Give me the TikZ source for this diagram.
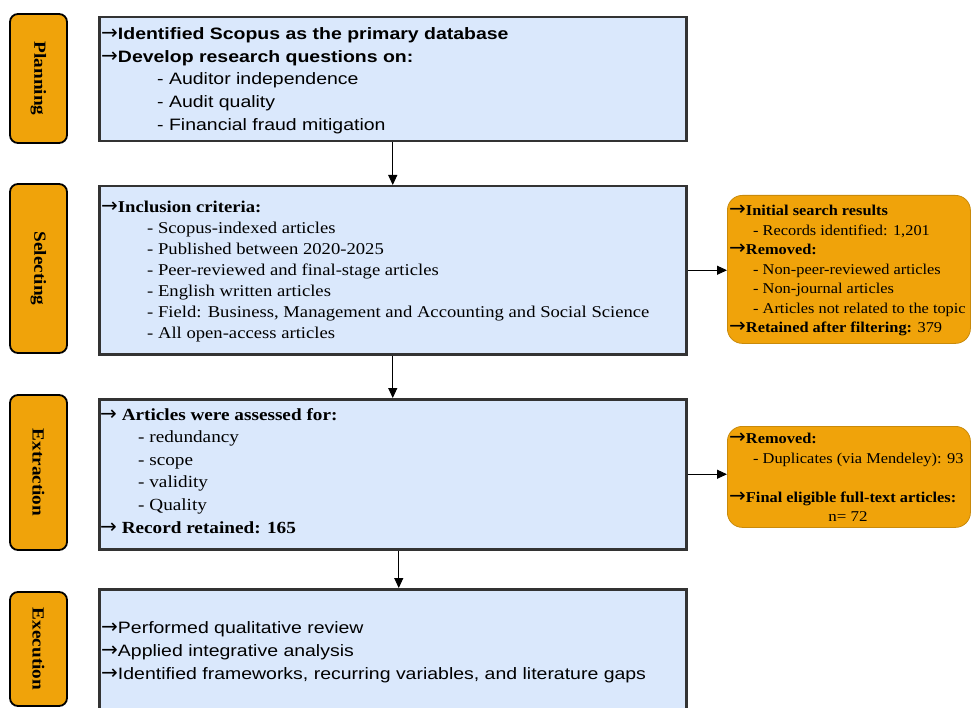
\documentclass[tikz,border=0pt]{standalone}
\usepackage{fontspec}
\setmainfont[FakeStretch=1.13]{Liberation Serif}
\newfontfamily\arialf[FakeStretch=1.18]{Liberation Sans}
\newfontfamily\djv{DejaVu Sans}
\newcommand\rarr{{\djv\fontsize{20}{20}\selectfont\raisebox{0pt}{→}}}
\usetikzlibrary{arrows.meta,calc}
\definecolor{bluefill}{HTML}{DAE8FC}
\definecolor{orfill}{HTML}{F0A30A}
\definecolor{ordraw}{HTML}{C98A0A}
\begin{document}
\begin{tikzpicture}[x=1pt,y=-1pt]
\tikzset{
 lab/.style={draw=black, line width=1.8pt, fill=orfill, rounded corners=8pt, rotate=-90, font=\bfseries\fontsize{17}{17}\selectfont, inner sep=0pt},
 bbox/.style={draw=black!80, line width=2.5pt, fill=bluefill, anchor=north west, inner sep=0pt},
 obox/.style={draw=ordraw, line width=0.8pt, fill=orfill, rounded corners=15pt, anchor=north west, inner sep=0pt},
 arr/.style={-{Triangle[length=10pt,width=9pt]}, line width=1pt, black},
 txt/.style={anchor=north west, inner sep=0pt, align=left},
}
\clip (0,0) rectangle (971,708);
\fill[white] (0,0) rectangle (971,708);
% main boxes
\node[bbox, minimum width=587pt, minimum height=124pt] (plan) at (98,16) {};
\node[bbox, minimum width=587pt, minimum height=168pt] (sel) at (98,185) {};
\node[bbox, minimum width=587pt, minimum height=150pt] (ext) at (98,398) {};
\node[bbox, minimum width=587pt, minimum height=150pt] (exe) at (98,588) {};
\node[obox, minimum width=243pt, minimum height=148pt] (or1) at (727,195) {};
\node[obox, minimum width=243pt, minimum height=101pt] (or2) at (727,426) {};
% phase labels
\node[lab, minimum width=129pt, minimum height=57pt] (lplan) at (38.5,78.5) {Planning};
\node[lab, minimum width=169pt, minimum height=57pt] (lsel) at (38.5,268.5) {Selecting};
\node[lab, minimum width=155pt, minimum height=57pt] (lext) at (38.5,472.5) {Extraction};
\node[lab, minimum width=114pt, minimum height=57pt] (lexe) at (38.5,649) {Execution};
% connectors
\draw[arr] (plan.south) -- (sel.north);
\draw[arr] (sel.south) -- (ext.north);
\draw[arr] ([xshift=6pt]ext.south) -- ([xshift=6pt]ext.south |- exe.north);
\draw[arr] (sel.east) -- (sel.east -| or1.west);
\draw[arr] (ext.east) -- (ext.east -| or2.west);
% texts
\node[txt, font=\arialf\fontsize{16.5}{22.75}\selectfont] (tplan) at (101,27.2) {\rarr\textbf{Identified Scopus as the primary database}\\ \rarr\textbf{Develop research questions on:}\\ \hspace*{56pt}- Auditor independence\\ \hspace*{56pt}- Audit quality\\ \hspace*{56pt}- Financial fraud mitigation};
\node[txt, font=\fontsize{16.5}{21}\selectfont] (tsel) at (101,201) {\rarr\textbf{Inclusion criteria:}\\ \hspace*{46pt}- Scopus-indexed articles\\ \hspace*{46pt}- Published between 2020-2025\\ \hspace*{46pt}- Peer-reviewed and final-stage articles\\ \hspace*{46pt}- English written articles\\ \hspace*{46pt}- Field: Business, Management and Accounting and Social Science\\ \hspace*{46pt}- All open-access articles};
\node[txt, font=\fontsize{15}{19.5}\selectfont\addfontfeature{FakeStretch=1.09}] (tor1) at (729,205) {\rarr\textbf{Initial search results}\\ \hspace*{24pt}- Records identified: 1,201\\ \rarr\textbf{Removed:}\\ \hspace*{24pt}- Non-peer-reviewed articles\\ \hspace*{24pt}- Non-journal articles\\ \hspace*{24pt}- Articles not related to the topic\\ \rarr\textbf{Retained after filtering:} 379};
\node[txt, font=\fontsize{15}{19.5}\selectfont\addfontfeature{FakeStretch=1.09}] (tor2) at (729,433) {\rarr\textbf{Removed:}\\ \hspace*{24pt}- Duplicates (via Mendeley): 93\\[19.5pt] \rarr\textbf{Final eligible full-text articles:}};
\node[anchor=base, inner sep=0pt, font=\fontsize{15}{19.5}\selectfont] (n72) at (848,521) {n= 72};
\node[txt, font=\fontsize{17}{22.6}\selectfont] (text) at (100,408) {\rarr\ \textbf{Articles were assessed for:}\\ \hspace*{38pt}- redundancy\\ \hspace*{38pt}- scope\\ \hspace*{38pt}- validity\\ \hspace*{38pt}- Quality\\ \rarr\ \textbf{Record retained: 165}};
\node[txt, font=\arialf\fontsize{16.5}{23}\selectfont] (texe) at (101,621) {\rarr Performed qualitative review\\ \rarr Applied integrative analysis\\ \rarr Identified frameworks, recurring variables, and literature gaps};
\end{tikzpicture}
\end{document}
